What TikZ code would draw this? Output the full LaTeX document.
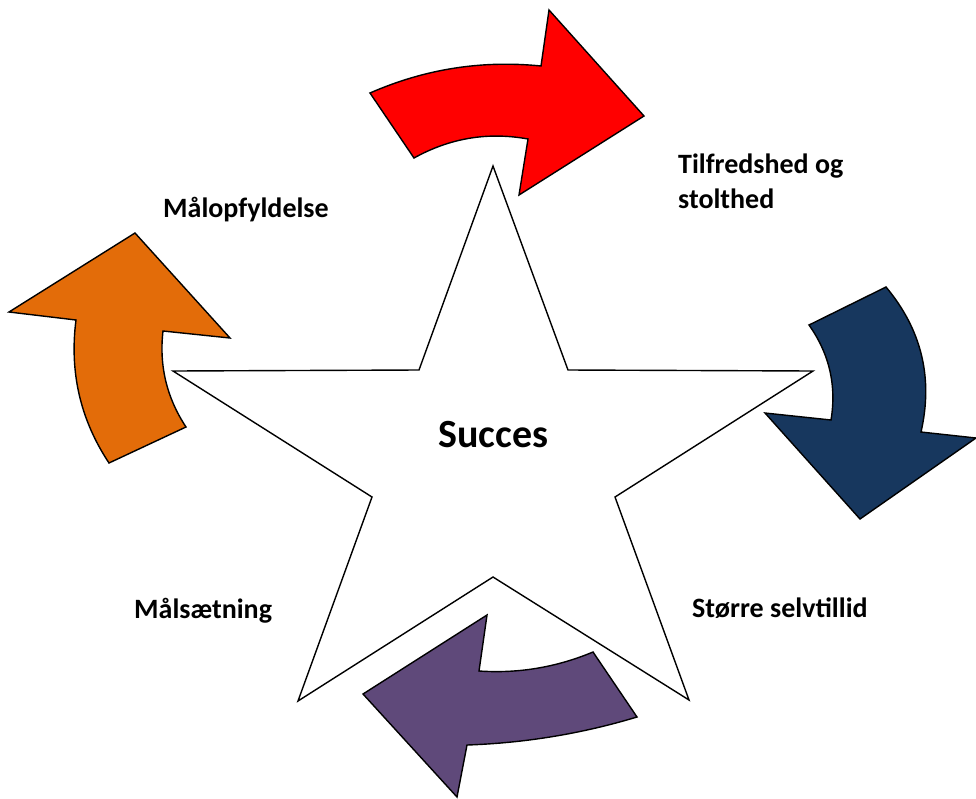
\documentclass[tikz,border=0pt]{standalone}
\usepackage{fontspec}
\setmainfont{Carlito}
\definecolor{redA}{HTML}{FF0000}
\definecolor{navyA}{HTML}{17375E}
\definecolor{purpleA}{HTML}{5F497A}
\definecolor{orangeA}{HTML}{E36C09}
\begin{document}
\begin{tikzpicture}[x=1pt,y=-1pt,
  outl/.style={draw=black,line width=1.4pt,line join=miter},
  lbl/.style={anchor=base west,inner sep=0pt,font=\fontsize{28}{35}\selectfont\bfseries,align=left}]
\useasboundingbox (0,0) rectangle (976,798);
% star
\draw[outl,fill=white] (493,166) -- (568,370) -- (813,371) -- (615,497) -- (689,700)
  -- (493,577) -- (298,701) -- (372,497) -- (173,371) -- (419,370) -- cycle;
\node[anchor=base west,inner sep=0pt,font=\fontsize{40}{48}\selectfont\bfseries] (succ) at (438,447) {Succes};
% red arrow
\draw[outl,fill=redA] (370,93) .. controls (424.7,69) and (481.7,60) .. (541,66) -- (549,10) -- (644,116)
  -- (519,195) -- (528,139) .. controls (488,131.7) and (450,138) .. (414,158) -- cycle;
% blue arrow
\draw[outl,fill=navyA] (809,325) -- (886,287) .. controls (921.7,329.7) and (933.3,378) .. (921,432) -- (976,438)
  -- (860,519) -- (765,413) -- (831,420) .. controls (836.7,385.3) and (829.3,353.7) .. (809,325) -- cycle;
% purple arrow
\draw[outl,fill=purpleA] (593,652) -- (637,717) .. controls (581.7,733.7) and (525,743) .. (467,745) -- (457,797)
  -- (363,694) -- (487,615) -- (479,671) .. controls (518.3,673.7) and (556.3,667.3) .. (593,652) -- cycle;
% orange arrow
\draw[outl,fill=orangeA] (109,463) -- (186,427) .. controls (166.7,397.7) and (159,365.7) .. (163,331) -- (230,338)
  -- (135,233) -- (9,312) -- (76,320) .. controls (69.3,372) and (80.3,419.7) .. (109,463) -- cycle;
% labels
\node[lbl] (l1) at (678,208) {Tilfredshed og\\stolthed};
\node[lbl] (l2) at (692,617) {Større selvtillid};
\node[lbl] (l3) at (134,618) {Målsætning};
\node[lbl] (l4) at (163,217) {Målopfyldelse};
\end{tikzpicture}
\end{document}
